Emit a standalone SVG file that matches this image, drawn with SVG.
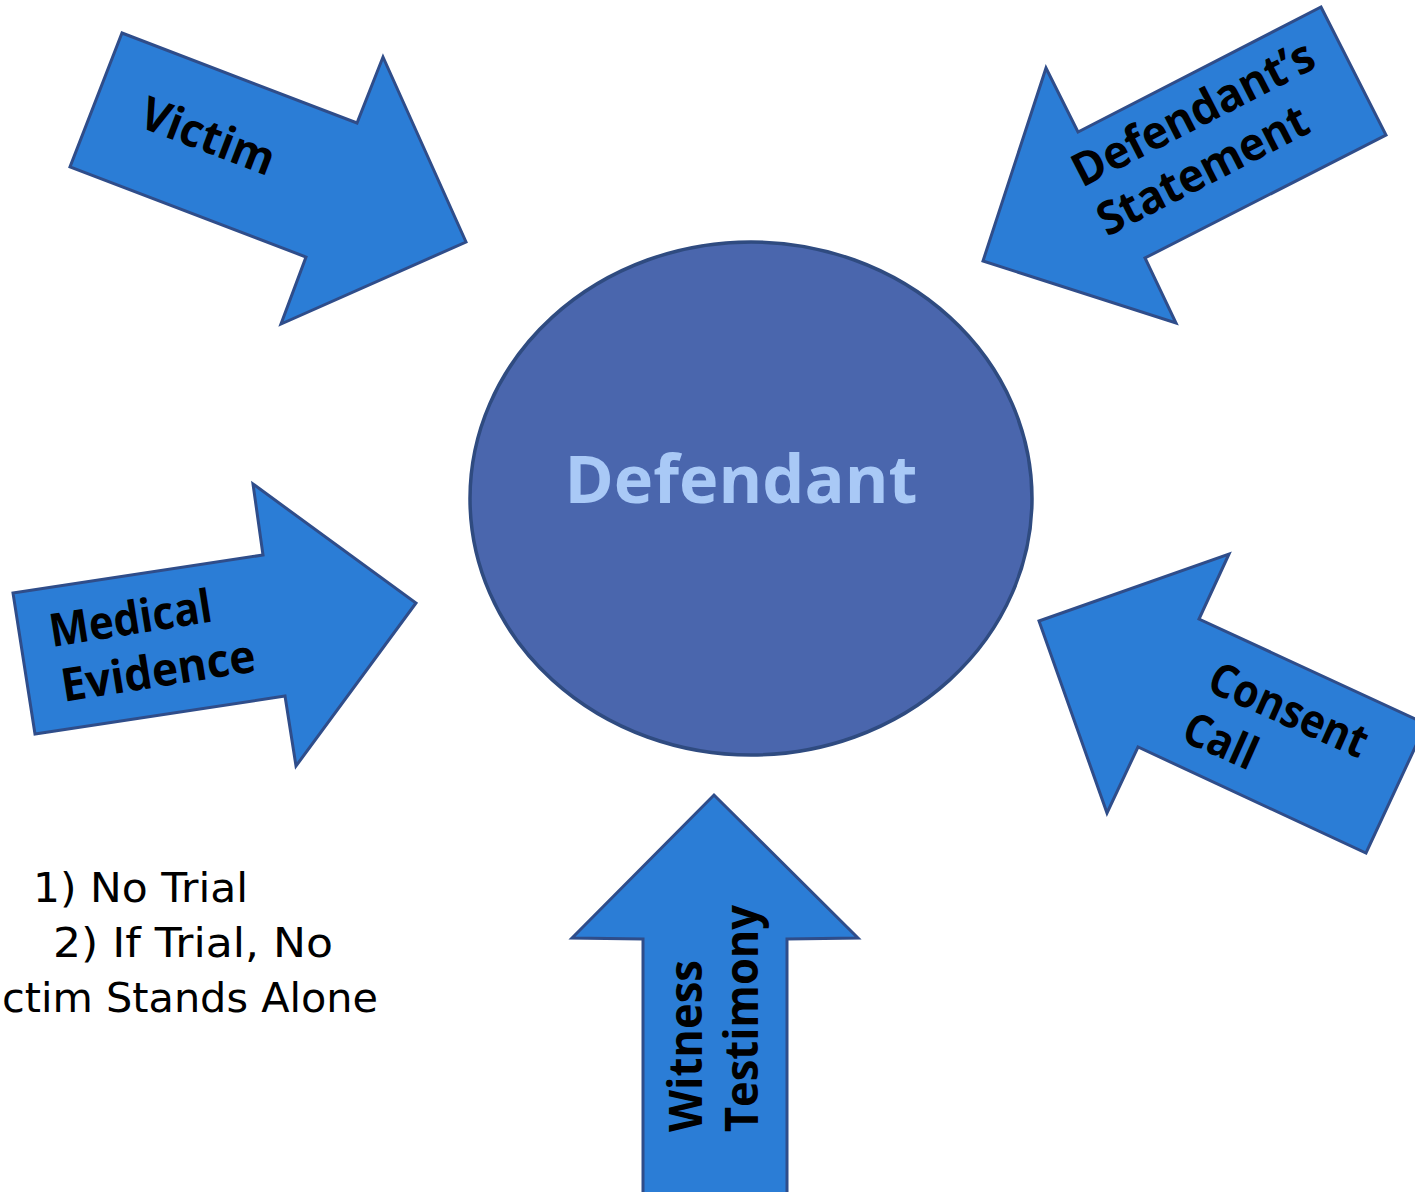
<svg xmlns="http://www.w3.org/2000/svg" width="1415" height="1192" viewBox="0 0 1415 1192">
<style>
.arrow{fill:#2b7dd6;stroke:#2f4d8a;stroke-width:3;stroke-linejoin:miter}
.lbl{font-family:"Open Sans","Liberation Sans",sans-serif;font-weight:700;font-size:46px;fill:#000}
.note{font-family:"DejaVu Sans","Liberation Sans",sans-serif;font-size:41px;fill:#000}
</style>
<rect width="1415" height="1192" fill="#ffffff"/>
<g id="defendant">
<ellipse cx="751" cy="498.5" rx="281" ry="256.5" fill="#4a66ad" stroke="#2f4b80" stroke-width="3.5"/>
<text x="741" y="503" text-anchor="middle" font-family="'Open Sans','Liberation Sans',sans-serif" font-weight="700" font-size="67" fill="#a9c9f6" textLength="353" lengthAdjust="spacingAndGlyphs">Defendant</text>
</g>
<g id="connectors">
<g id="victim">
<polygon class="arrow" points="122,33 357,123 383,57 466,242 281,324 306,257 70,167"/>
<text class="lbl" transform="translate(137,126) rotate(21)" textLength="140" lengthAdjust="spacingAndGlyphs">Victim</text>
</g>
<g id="defendants-statement">
<polygon class="arrow" points="1321,7 1386,135 1145,258 1176,323 983,261 1046,68 1078,132"/>
<g transform="translate(1082,188) rotate(-27.2)">
<text class="lbl" x="0" y="0" textLength="266" lengthAdjust="spacingAndGlyphs">Defendant’s</text>
<text class="lbl" x="0" y="55" textLength="231" lengthAdjust="spacingAndGlyphs">Statement</text>
</g>
</g>
<g id="medical-evidence">
<polygon class="arrow" points="13,593 263,555 253,484 416,603 296,766 285,696 35,734"/>
<g transform="translate(52,647) rotate(-9)">
<text class="lbl" x="0" y="0" textLength="164" lengthAdjust="spacingAndGlyphs">Medical</text>
<text class="lbl" x="3" y="56" textLength="196" lengthAdjust="spacingAndGlyphs">Evidence</text>
</g>
</g>
<g id="consent-call">
<polygon class="arrow" points="1229,554 1199,619 1426,724 1366,853 1138,747 1107,813 1039,621"/>
<g transform="translate(1205,690) rotate(24)">
<text class="lbl" x="0" y="0" textLength="169" lengthAdjust="spacingAndGlyphs">Consent</text>
<text class="lbl" x="-3" y="56" textLength="76" lengthAdjust="spacingAndGlyphs">Call</text>
</g>
</g>
<g id="witness-testimony">
<polygon class="arrow" points="643,1196 643,939 572,938 714,795 858,938 787,939 787,1196"/>
<g transform="translate(702,1132) rotate(-90)">
<text class="lbl" x="0" y="0" textLength="172" lengthAdjust="spacingAndGlyphs">Witness</text>
<text class="lbl" x="0" y="56" textLength="227" lengthAdjust="spacingAndGlyphs">Testimony</text>
</g>
</g>
</g>
<g id="outcome-note">
<text class="note" x="33" y="902" textLength="215" lengthAdjust="spacingAndGlyphs">1) No Trial</text>
<text class="note" x="53" y="957" textLength="280" lengthAdjust="spacingAndGlyphs">2) If Trial, No</text>
<text class="note" x="2" y="1012" textLength="376" lengthAdjust="spacingAndGlyphs">ctim Stands Alone</text>
</g>
</svg>
